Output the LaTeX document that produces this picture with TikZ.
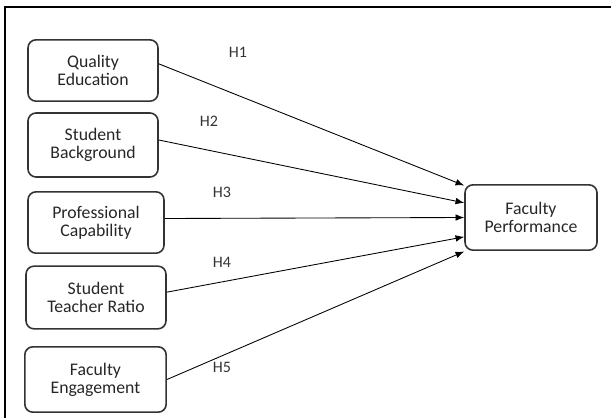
\documentclass[tikz,border=0pt]{standalone}
\usepackage{fontspec}
\setmainfont{Carlito}
\usetikzlibrary{arrows.meta, positioning}

\begin{document}
\begin{tikzpicture}[x=0.75pt, y=-0.75pt,
		factor/.style={draw=black!80, line width=1.2pt, rounded corners=6pt, align=center,
			text=black!85, inner sep=0pt, font=\fontsize{13.3}{13.4}\selectfont},
		hyp/.style={-{Latex[length=6.5pt, width=5pt]}, line width=0.65pt},
		hlabel/.style={text=black!80, font=\fontsize{12}{14}\selectfont},
	]
	\useasboundingbox (0,0) rectangle (611,418);
	\clip (0,0) rectangle (611,418);
	% outer frame
	\draw[line width=1.5pt] (5,430) -- (5,7) -- (620,7);

	\node[factor, minimum width=97.5pt, minimum height=46pt] (qe) at (93,70.5) {Quality\\Education};
	\node[factor, minimum width=97.5pt, minimum height=48pt] (sb) at (93,145) {Student\\Background};
	\node[factor, minimum width=102pt, minimum height=46pt] (pc) at (96,222.5) {Professional\\Capability};
	\node[factor, minimum width=105pt, minimum height=47pt] (str) at (96,297.5) {Student\\Teacher Ratio};
	\node[factor, minimum width=106pt, minimum height=49pt] (fe) at (95.5,379.5) {Faculty\\Engagement};
	\node[factor, minimum width=99pt, minimum height=49pt] (fp) at (531,217.5) {Faculty\\Performance};

	\draw[hyp] ([yshift=5pt]qe.east) -- ([yshift=24pt]fp.west);
	\draw[hyp] ([yshift=3.75pt]sb.east) -- ([yshift=11pt]fp.west);
	\draw[hyp] ([yshift=3pt]pc.east) -- ([yshift=0pt]fp.west);
	\draw[hyp] ([yshift=4pt]str.east) -- ([yshift=-14.5pt]fp.west);
	\draw[hyp] (fe.east) -- ([yshift=-25.5pt]fp.west);

	\node[hlabel] (h1) at (238,52) {H1};
	\node[hlabel] (h2) at (209,121) {H2};
	\node[hlabel] (h3) at (222,192) {H3};
	\node[hlabel] (h4) at (222,262) {H4};
	\node[hlabel] (h5) at (222,367) {H5};
\end{tikzpicture}
\end{document}
